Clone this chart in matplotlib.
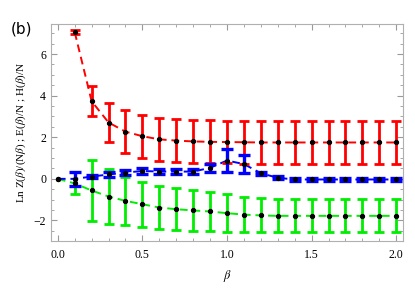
import numpy as np
import matplotlib
matplotlib.use('Agg')
import matplotlib.pyplot as plt
from matplotlib.ticker import MultipleLocator

plt.rcParams['font.family'] = ['Liberation Serif', 'DejaVu Serif']
plt.rcParams['mathtext.fontset'] = 'stix'

# beta grid
beta = [0.0, 0.1, 0.2, 0.3, 0.4, 0.5, 0.6, 0.7, 0.8, 0.9, 1.0,
        1.1, 1.2, 1.3, 1.4, 1.5, 1.6, 1.7, 1.8, 1.9, 2.0]

# Ln Z(beta)/(N beta)  (red, no value at beta = 0)
lnz_beta = beta[1:]
lnz_mean = [7.05, 3.73, 2.71, 2.27, 2.05, 1.90, 1.84, 1.80, 1.78, 1.77,
            1.76, 1.75, 1.75, 1.75, 1.75, 1.75, 1.75, 1.75, 1.75, 1.75]
lnz_err = [0.1, 0.72, 0.93, 1.03, 1.03, 1.03, 1.03, 1.03, 1.03, 1.03,
           1.03, 1.03, 1.03, 1.03, 1.03, 1.03, 1.03, 1.03, 1.03, 1.03]

# E(beta)/N  (blue)
e_mean = [0.0, 0.0, 0.11, 0.21, 0.30, 0.38, 0.35, 0.35, 0.35, 0.53, 0.88,
          0.71, 0.27, 0.05, -0.03, -0.03, -0.03, -0.03, -0.03, -0.03, -0.03]
e_err = [0.0, 0.33, 0.06, 0.1, 0.12, 0.15, 0.12, 0.1, 0.1, 0.2, 0.55,
         0.42, 0.08, 0.08, 0.08, 0.07, 0.07, 0.07, 0.06, 0.06, 0.06]

# H(beta)/N  (green)
h_mean = [0.0, -0.22, -0.56, -0.85, -1.06, -1.22, -1.38, -1.46, -1.52, -1.57, -1.65,
          -1.72, -1.76, -1.78, -1.78, -1.78, -1.78, -1.78, -1.78, -1.78, -1.78]
h_err = [0.0, 0.53, 1.47, 1.3, 1.17, 1.08, 1.03, 1.0, 0.97, 0.95, 0.9,
         0.85, 0.82, 0.8, 0.8, 0.8, 0.8, 0.8, 0.8, 0.8, 0.8]

fig = plt.figure(figsize=(4.15, 2.92), dpi=100)
ax = fig.add_axes([0.123, 0.176, 0.848, 0.742])

series = [
    (lnz_beta, lnz_mean, lnz_err, '#ff0000', 2.0, 3.5),
    (beta, h_mean, h_err, '#00ee00', 2.0, 3.5),
    (beta, e_mean, e_err, '#0000ff', 2.4, 4.0),
]
for x, y, err, col, elw, cap in series:
    ax.plot(x, y, color=col, ls=(0, (4, 2.5)), lw=1.4, zorder=2)
    mask = np.array(err) > 0
    ax.errorbar(np.array(x)[mask], np.array(y)[mask], yerr=np.array(err)[mask],
                fmt='none', ecolor=col, elinewidth=elw, capsize=cap,
                capthick=elw, zorder=3)
    ax.plot(x, y, 'o', color='black', ms=2.8, zorder=4)

ax.set_xlim(-0.04, 2.04)
ax.set_ylim(-2.97, 7.45)
ax.xaxis.set_major_locator(MultipleLocator(0.5))
ax.xaxis.set_minor_locator(MultipleLocator(0.1))
ax.yaxis.set_major_locator(MultipleLocator(2))
ax.yaxis.set_minor_locator(MultipleLocator(0.5))
ax.xaxis.set_major_formatter(plt.FormatStrFormatter('%.1f'))
ax.tick_params(which='both', direction='in', top=True, right=True,
               color='#999999', labelsize=8.5)
ax.tick_params(axis='x', pad=6)
ax.tick_params(which='major', length=4)
ax.tick_params(which='minor', length=2)
for s in ax.spines.values():
    s.set_color('#b0b0b0')

ax.set_xlabel(r'$\beta$', fontsize=9, labelpad=5)
ax.set_ylabel(r'Ln Z($\beta$)/(N$\beta$) ; E($\beta$)/N ; H($\beta$)/N',
              fontsize=8, labelpad=4)
fig.text(0.025, 0.885, '(b)', fontsize=11, family='DejaVu Sans')

fig.savefig('out.png', dpi=100)
